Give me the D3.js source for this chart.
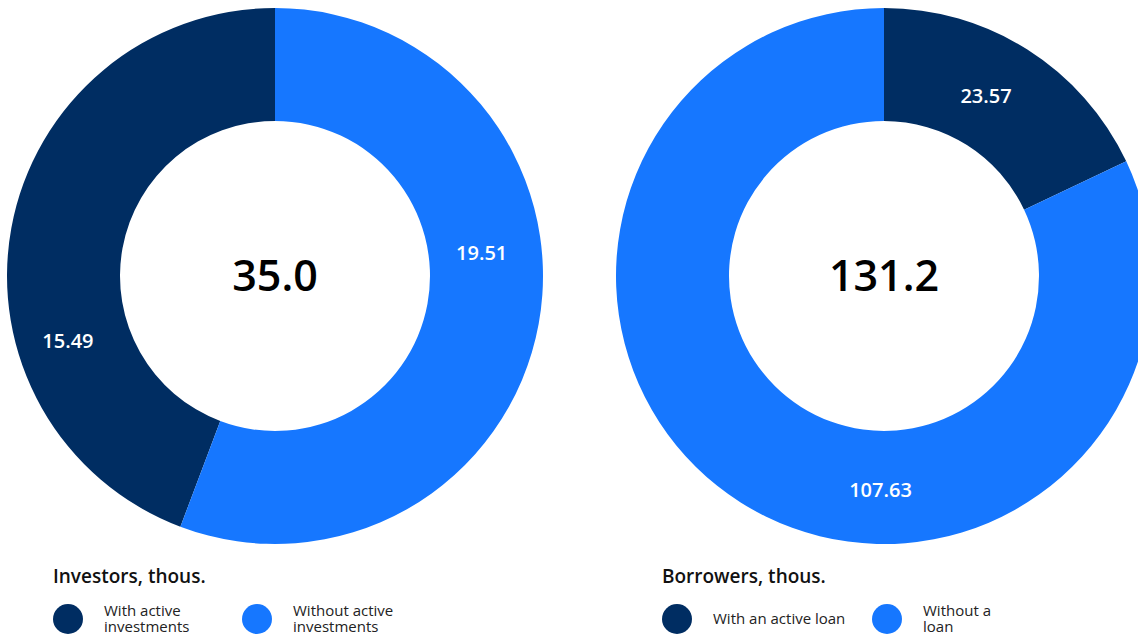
<!DOCTYPE html>
<html>
<head>
<meta charset="utf-8">
<script src="https://cdn.jsdelivr.net/npm/d3@7"></script>
<style>
  html, body { margin: 0; padding: 0; background: #ffffff; }
  svg { display: block; font-family: "Open Sans", "Noto Sans", sans-serif; }
</style>
</head>
<body>
<svg id="chart" width="1138" height="638"></svg>
<script>
// Investors (thousands)
const investorCategories = ["With active investments", "Without active investments"];
const investorValues = [15.49, 19.51];
const investorTitle = "Investors, thous.";

// Borrowers (thousands)
const borrowerCategories = ["With an active loan", "Without a loan"];
const borrowerValues = [23.57, 107.63];
const borrowerTitle = "Borrowers, thous.";

const colors = ["#002d62", "#1677ff"];

// Layout of the two donuts and their legends
const layout = [
  {
    cx: 275, cy: 276, endAngle: -2 * Math.PI,
    labelShift: [-27.7, -16.8], labelR: [217, 208],
    titleX: 53, swatchX: [68, 257], wrap: [110, 110]
  },
  {
    cx: 884, cy: 276, endAngle: 2 * Math.PI,
    labelShift: [-2.8, -31.4], labelR: [207, 213.5],
    titleX: 662, swatchX: [677, 887], wrap: [160, 80]
  }
];
const outerR = 268, innerR = 155;
const titleY = 583, legendY = 619, swatchR = 15;

const charts = [
  { categories: investorCategories, values: investorValues, title: investorTitle },
  { categories: borrowerCategories, values: borrowerValues, title: borrowerTitle }
];

const svg = d3.select("#chart");
const color = d3.scaleOrdinal().domain([0, 1]).range(colors);
const arc = d3.arc().innerRadius(innerR).outerRadius(outerR);
const fmtTotal = d3.format(".1f");
const fmtVal = d3.format(".2f");

charts.forEach((c, ci) => {
  const L = layout[ci];
  const pie = d3.pie().sort(null).startAngle(0).endAngle(L.endAngle);
  const arcs = pie(c.values);

  const g = svg.append("g").attr("transform", `translate(${L.cx},${L.cy})`);

  g.selectAll("path.slice")
    .data(arcs)
    .join("path")
    .attr("class", "slice")
    .attr("d", arc)
    .attr("fill", (d, i) => color(i));

  const labelAngle = (d, i) => (d.startAngle + d.endAngle) / 2 + L.labelShift[i] * Math.PI / 180;

  g.selectAll("text.val")
    .data(arcs)
    .join("text")
    .attr("class", "val")
    .attr("x", (d, i) => L.labelR[i] * Math.sin(labelAngle(d, i)))
    .attr("y", (d, i) => -L.labelR[i] * Math.cos(labelAngle(d, i)))
    .attr("dy", "0.36em")
    .attr("text-anchor", "middle")
    .attr("fill", "#ffffff")
    .attr("font-size", 20)
    .attr("font-weight", 600)
    .text(d => fmtVal(d.value));

  g.append("text")
    .attr("x", 0)
    .attr("y", 0)
    .attr("dy", "0.36em")
    .attr("text-anchor", "middle")
    .attr("fill", "#000000")
    .attr("font-size", 43)
    .attr("font-weight", 600)
    .text(fmtTotal(d3.sum(c.values)));

  // Legend
  svg.append("text")
    .attr("x", L.titleX)
    .attr("y", titleY)
    .attr("fill", "#111111")
    .attr("font-size", 19)
    .attr("font-weight", 600)
    .text(c.title);

  c.categories.forEach((name, i) => {
    svg.append("circle")
      .attr("cx", L.swatchX[i])
      .attr("cy", legendY)
      .attr("r", swatchR)
      .attr("fill", color(i));

    const t = svg.append("text")
      .attr("x", L.swatchX[i] + 36)
      .attr("fill", "#222222")
      .attr("font-size", 15);

    // word wrap into lines no wider than the item's wrap width
    const words = name.split(" ");
    const lines = [];
    let cur = [];
    const probe = t.append("tspan");
    words.forEach(w => {
      const test = cur.concat(w).join(" ");
      probe.text(test);
      if (cur.length && probe.node().getComputedTextLength() > L.wrap[i]) {
        lines.push(cur.join(" "));
        cur = [w];
      } else {
        cur.push(w);
      }
    });
    lines.push(cur.join(" "));
    probe.remove();

    const lh = 15.6;
    const firstBaseline = legendY + 5 - (lines.length - 1) * lh / 2;
    lines.forEach((ln, k) => {
      t.append("tspan")
        .attr("x", L.swatchX[i] + 36)
        .attr("y", firstBaseline + k * lh)
        .text(ln);
    });
  });
});
</script>
</body>
</html>
